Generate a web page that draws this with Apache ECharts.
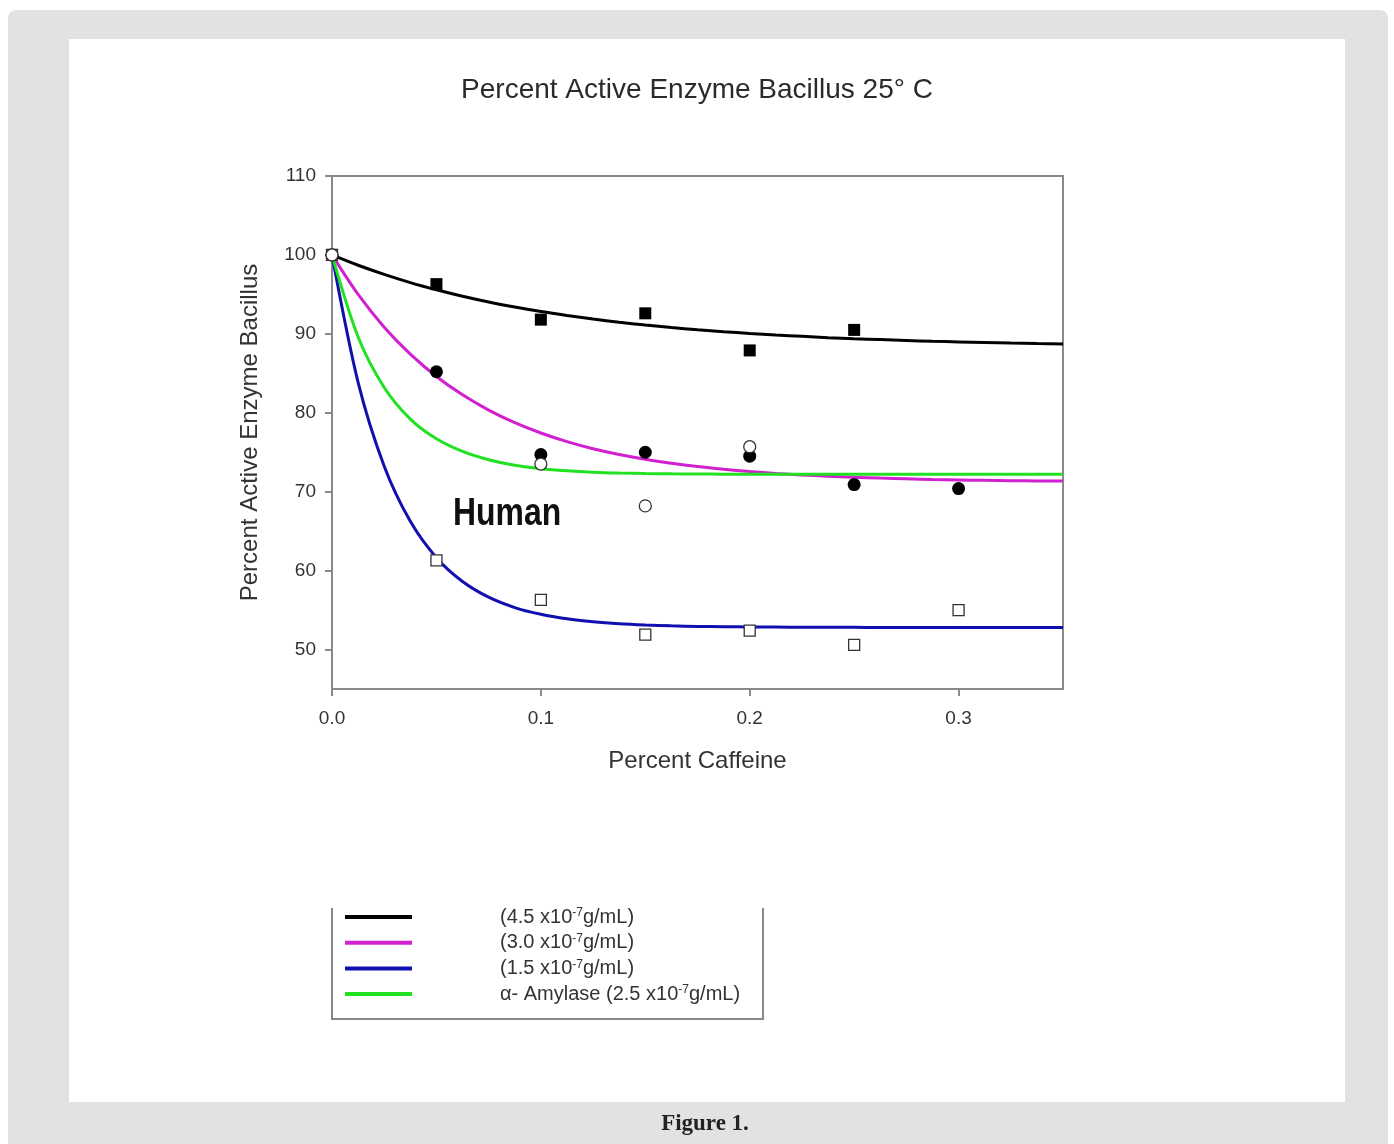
<!DOCTYPE html>
<html>
<head>
<meta charset="utf-8">
<script src="https://cdn.jsdelivr.net/npm/echarts@6/dist/echarts.min.js"></script>
<style>
html,body{margin:0;padding:0;background:#fff;}
#chart{width:1394px;height:1144px;}
</style>
</head>
<body>
<div id="chart"></div>
<script>
// ---- data ----
const xTicks = [0, 0.1, 0.2, 0.3];
const yTicks = [50, 60, 70, 80, 90, 100, 110];

const xCurve = [0, 0.0125, 0.025, 0.0375, 0.05, 0.0625, 0.075, 0.0875, 0.1, 0.1125, 0.125, 0.1375, 0.15, 0.1625,
  0.175, 0.1875, 0.2, 0.2125, 0.225, 0.2375, 0.25, 0.2625, 0.275, 0.2875, 0.3, 0.3125, 0.325, 0.3375, 0.35];
const curve45 = [100, 98.69, 97.53, 96.49, 95.58, 94.76, 94.04, 93.40, 92.82, 92.32, 91.87, 91.47, 91.11, 90.80,
  90.52, 90.27, 90.05, 89.85, 89.68, 89.52, 89.39, 89.27, 89.16, 89.06, 88.98, 88.90, 88.83, 88.77, 88.72];
const curve30 = [100, 94.99, 90.84, 87.43, 84.60, 82.27, 80.34, 78.75, 77.44, 76.35, 75.45, 74.71, 74.10, 73.60,
  73.18, 72.84, 72.55, 72.31, 72.12, 71.96, 71.83, 71.72, 71.63, 71.55, 71.49, 71.44, 71.40, 71.36, 71.34];
const curve15 = [100, 83.85, 73.23, 66.24, 61.64, 58.62, 56.63, 55.32, 54.46, 53.89, 53.52, 53.27, 53.11, 53.00,
  52.93, 52.89, 52.86, 52.84, 52.82, 52.81, 52.81, 52.80, 52.80, 52.80, 52.80, 52.80, 52.80, 52.80, 52.80];
const curveAmy = [100, 89.60, 83.20, 79.20, 76.70, 75.10, 74.05, 73.35, 72.92, 72.65, 72.47, 72.36, 72.30, 72.26,
  72.24, 72.22, 72.21, 72.21, 72.20, 72.20, 72.20, 72.20, 72.20, 72.20, 72.20, 72.20, 72.20, 72.20, 72.20];

// measured points
const xPts   = [0, 0.05, 0.1, 0.15, 0.2, 0.25, 0.3];
const pts45  = [100, 96.3, 91.8, 92.6, 87.9, 90.5, null];
const pts30  = [100, 85.2, 74.7, 75.0, 74.5, 70.9, 70.4];
const pts15  = [100, 61.3, 56.3, 51.9, 52.4, 50.6, 55.0];
const ptsAmy = [100, null, 73.5, 68.2, 75.7, null, null];

const names = ['c45', 'c30', 'c15', 'amy'];
const legendText = {
  c45: '{pad|}{t|(4.5 x10}{s|-7}{t|g/mL)}',
  c30: '{pad|}{t|(3.0 x10}{s|-7}{t|g/mL)}',
  c15: '{pad|}{t|(1.5 x10}{s|-7}{t|g/mL)}',
  amy: '{pad|}{t|\u03B1- Amylase (2.5 x10}{s|-7}{t|g/mL)}'
};

const pair = (xs, ys) => xs.map((x, i) => [x, ys[i]]).filter(p => p[1] !== null);

const FONT = '"Liberation Sans", Arial, sans-serif';
const AX = '#8a8a8a';

const chart = echarts.init(document.getElementById('chart'));

function curve(name, data, color) {
  return {
    name: name, type: 'line', data: pair(xCurve, data), smooth: 0.3,
    showSymbol: false, symbol: 'none',
    lineStyle: {color: color, width: 3}, itemStyle: {color: color}, z: 3, silent: true
  };
}
function pts(name, data, symbol, size, filled) {
  return {
    name: name, type: 'scatter', data: pair(xPts, data), symbol: symbol, symbolSize: size,
    itemStyle: filled ? {color: '#000', opacity: 1} : {color: '#fff', borderColor: '#333', borderWidth: 1.3, opacity: 1},
    z: 4, silent: true
  };
}

chart.setOption({
  animation: false,
  backgroundColor: '#fff',
  graphic: [
    {type: 'rect', z: -10, shape: {x: 8, y: 10, width: 1380, height: 1160, r: 8}, style: {fill: '#e2e2e2'}},
    {type: 'rect', z: -9, shape: {x: 69, y: 39, width: 1276, height: 1063}, style: {fill: '#ffffff'}},
    {type: 'text', z: 10, x: 705, y: 1124, style: {text: 'Figure 1.', font: 'bold 23px "Liberation Serif", "DejaVu Serif", serif', fill: '#222', align: 'center', verticalAlign: 'middle'}},
    {type: 'text', z: 10, x: 453, y: 515, scaleX: 0.84, style: {text: 'Human', font: 'bold 38px "Liberation Sans", Arial, sans-serif', fill: '#111', align: 'left', verticalAlign: 'middle'}},
    {type: 'polyline', z: 10, shape: {points: [[332, 908], [332, 1019], [763, 1019], [763, 908]]}, style: {stroke: '#888', lineWidth: 2, fill: null}}
  ],
  title: {
    text: 'Percent Active Enzyme Bacillus 25\u00B0 C',
    left: 'center', top: 71,
    textStyle: {fontFamily: FONT, fontSize: 28, fontWeight: 'normal', color: '#2a2a2a'}
  },
  legend: {
    show: true, orient: 'vertical', left: 340, top: 902,
    data: names, icon: 'rect', itemWidth: 67, itemHeight: 4, itemGap: 5.7,
    formatter: n => legendText[n],
    textStyle: {
      rich: {
        pad: {width: 83},
        t: {fontFamily: FONT, fontSize: 20, color: '#333', lineHeight: 20},
        s: {fontFamily: FONT, fontSize: 12, color: '#333', lineHeight: 12, verticalAlign: 'top'}
      }
    },
    selectedMode: false
  },
  grid: {left: 332, top: 176, width: 731, height: 513, show: true, borderColor: AX, borderWidth: 2, backgroundColor: 'transparent'},
  xAxis: {
    type: 'value', min: 0, max: 0.35,
    name: 'Percent Caffeine', nameLocation: 'middle', nameGap: 60,
    nameTextStyle: {fontFamily: FONT, fontSize: 24, color: '#333', verticalAlign: 'top'},
    axisLine: {show: true, lineStyle: {color: AX, width: 2}},
    axisTick: {show: true, inside: false, length: 7, lineStyle: {color: AX, width: 2}, customValues: xTicks},
    axisLabel: {fontFamily: FONT, fontSize: 19, color: '#333', margin: 20, customValues: xTicks, formatter: v => v.toFixed(1)},
    splitLine: {show: false}
  },
  yAxis: {
    type: 'value', min: 45, max: 110, interval: 5,
    name: 'Percent Active Enzyme Bacillus', nameLocation: 'middle', nameGap: 70,
    nameTextStyle: {fontFamily: FONT, fontSize: 24, color: '#333'},
    axisLine: {show: true, lineStyle: {color: AX, width: 2}},
    axisTick: {show: true, inside: false, length: 7, lineStyle: {color: AX, width: 2}, customValues: yTicks},
    axisLabel: {fontFamily: FONT, fontSize: 19, color: '#333', margin: 16, customValues: yTicks},
    splitLine: {show: false}
  },
  series: [
    pts('p45', pts45, 'rect', 12, true),
    pts('p30', pts30, 'circle', 13, true),
    pts('p15', pts15, 'rect', 11, false),
    pts('pAmy', ptsAmy, 'circle', 12, false),
    curve('c45', curve45, '#000000'),
    curve('c30', curve30, '#d020d0'),
    curve('c15', curve15, '#1010b0'),
    curve('amy', curveAmy, '#22e022')
  ]
});
</script>
</body>
</html>
